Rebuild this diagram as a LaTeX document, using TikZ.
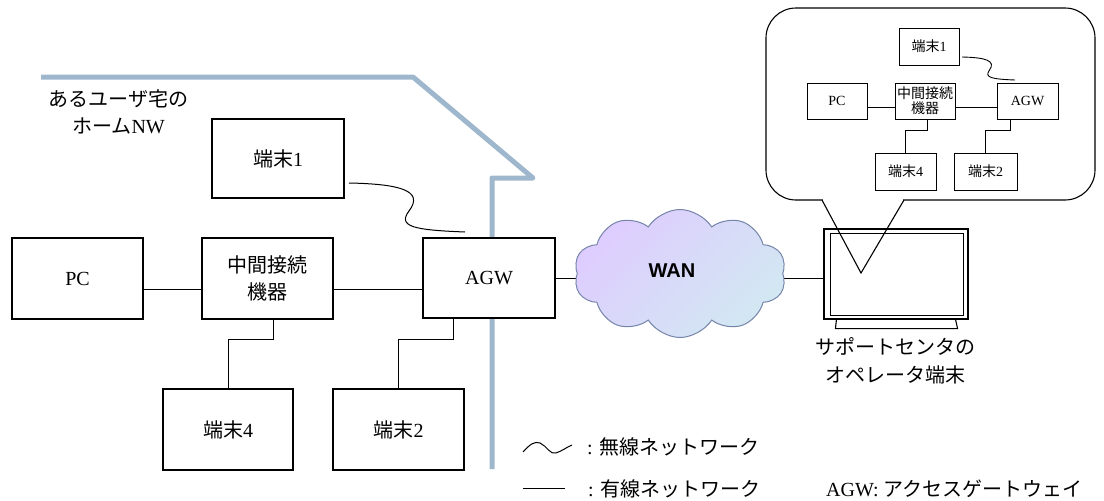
\documentclass[tikz,border=0pt]{standalone}
\usepackage{fontspec}
\setmainfont{Liberation Serif}
\newfontfamily\jp{Noto Sans CJK JP}
\newfontfamily\wanfont{Liberation Sans}
\usetikzlibrary{shapes.symbols}
\definecolor{wallc}{RGB}{158,183,205}
\definecolor{cloudline}{RGB}{118,132,170}
\definecolor{cloudtop}{RGB}{222,204,255}
\definecolor{cloudbot}{RGB}{210,232,242}
\newcommand{\J}[1]{{\jp #1}}
\begin{document}
\begin{tikzpicture}[x=1pt,y=-1pt,
  box/.style={draw, line width=1.1pt, fill=white, inner sep=0pt, font=\fontsize{20}{27}\selectfont, align=center},
  sbox/.style={draw, line width=0.9pt, fill=white, inner sep=0pt, font=\fontsize{14}{15}\selectfont, align=center},
  wire/.style={line width=1pt},
  swire/.style={line width=0.9pt},
  wall/.style={draw=wallc, line width=5pt, line join=round},
  lbl/.style={inner sep=0pt, font=\fontsize{20}{27}\selectfont, align=center},
  lbltwo/.style={inner sep=0pt, font=\fontsize{20}{28}\selectfont, align=center}]
\useasboundingbox (0,0) rectangle (1104,501);
% house wall
\draw[wall] (41,77) -- (413,77) -- (533,178) -- (492,178) -- (492,469);
% home nodes
\node[box, minimum width=131pt, minimum height=81pt] (pc) at (77.5,278.5) {PC};
\node[box, minimum width=131pt, minimum height=81pt] (mid) at (267.5,278.5) {\J{中間接続}\\\J{機器}};
\node[box, minimum width=132pt, minimum height=80pt] (agw) at (489,278) {AGW};
\node[box, minimum width=132pt, minimum height=79pt] (t1) at (278,158.5) {\J{端末}1};
\node[box, minimum width=130pt, minimum height=81pt] (t4) at (228,429.5) {\J{端末}4};
\node[box, minimum width=131pt, minimum height=81pt] (t2) at (398.5,429.5) {\J{端末}2};
\draw[wire] ([yshift=-10.5pt]pc.east) -- ([yshift=-10.5pt]mid.west);
\draw[wire] ([yshift=-10.5pt]mid.east) -- ([yshift=-11pt]agw.west);
\draw[wire] ([xshift=5.5pt]mid.south) -- ++(0,20) -| (t4.north);
\draw[wire] ([xshift=-36pt]agw.south) -- ++(0,21) -| (t2.north);
\coordinate (w1a) at (349,183);
\coordinate (w1b) at (465,232);
\draw[wire] (w1a) .. controls (398,184) and (425,190) .. (409,211) .. controls (397,227) and (415,230) .. (w1b);
\node[lbl] (home) at (118.5,112) {\J{あるユーザ宅の}\\\J{ホーム}NW};
% callout
\draw[line width=1.1pt, rounded corners=30pt] (766,8) rectangle (1095,200);
\fill[white] (823,198.4) rectangle (903,201.6);
\draw[line width=1.1pt, line join=miter] (822,200) -- (861,273) -- (904,200);
% monitor
\node[draw, line width=1.1pt, minimum width=144pt, minimum height=90pt, inner sep=0pt] (mon) at (896,274) {};
\draw[line width=1.1pt] ([shift={(7,5)}]mon.north west) rectangle ([shift={(-5,-4)}]mon.south east);
\draw[line width=1.1pt] ([shift={(13,0)}]mon.south west) -- ++(-1,9) -- ([shift={(-11,9)}]mon.south east) -- ([shift={(-13,0)}]mon.south east);
\node[lbltwo] (op) at (895,361) {\J{サポートセンタの}\\\J{オペレータ端末}};
% WAN
\draw[wire] (agw.east) -- (agw.east -| mon.west);
\node[cloud, cloud puffs=10, cloud puff arc=115, aspect=1.6, draw=cloudline, line width=1pt,
  top color=cloudtop, bottom color=cloudbot, shading angle=45,
  minimum width=212pt, minimum height=128pt, inner sep=0pt] (wan) at (680,273.5) {};
\node[font={\wanfont\bfseries\fontsize{20}{24}\selectfont}, inner sep=0pt] (wanlbl) at (672,271) {WAN};
% inner diagram
\node[sbox, minimum width=60pt, minimum height=37pt] (t1s) at (929,46.5) {\J{端末}1};
\node[sbox, minimum width=60pt, minimum height=36pt] (pcs) at (837,101) {PC};
\node[sbox, minimum width=60pt, minimum height=36pt] (mids) at (925,101) {\J{中間接続}\\\J{機器}};
\node[sbox, minimum width=61pt, minimum height=36pt] (agws) at (1027.5,101) {AGW};
\node[sbox, minimum width=61pt, minimum height=37pt] (t4s) at (905.5,171.5) {\J{端末}4};
\node[sbox, minimum width=63pt, minimum height=37pt] (t2s) at (985.5,171.5) {\J{端末}2};
\draw[swire] ([yshift=-6pt]pcs.east) -- ([yshift=-6pt]mids.west);
\draw[swire] ([yshift=-6pt]mids.east) -- ([yshift=-6pt]agws.west);
\draw[swire] ([xshift=2pt]mids.south) -- ++(0,11) -| (t4s.north);
\draw[swire] ([xshift=-17.5pt]agws.south) -- ++(0,11) -| (t2s.north);
\coordinate (w2a) at (962,57);
\coordinate (w2b) at (1015,80);
\draw[swire] (w2a) .. controls (984.4,57.5) and (996.7,60.3) .. (989.4,70.2) .. controls (983.9,77.7) and (992.2,79.1) .. (w2b);
% legend
\draw[wire] (523,452) .. controls (530,444) and (535,441) .. (540,443) .. controls (547,446) and (550,455) .. (556,453) .. controls (562,451) and (567,447) .. (572,445);
\node[lbl, anchor=west] (lw) at (587,447) {: \J{無線ネットワーク}};
\coordinate (la) at (523,488);
\coordinate (lb) at (565,488);
\draw[wire] (la) -- (lb);
\node[lbl, anchor=west] (lwd) at (588,488.5) {: \J{有線ネットワーク}};
\node[lbl, anchor=west] (agwnote) at (826,488.5) {AGW: \J{アクセスゲートウェイ}};
\end{tikzpicture}
\end{document}
